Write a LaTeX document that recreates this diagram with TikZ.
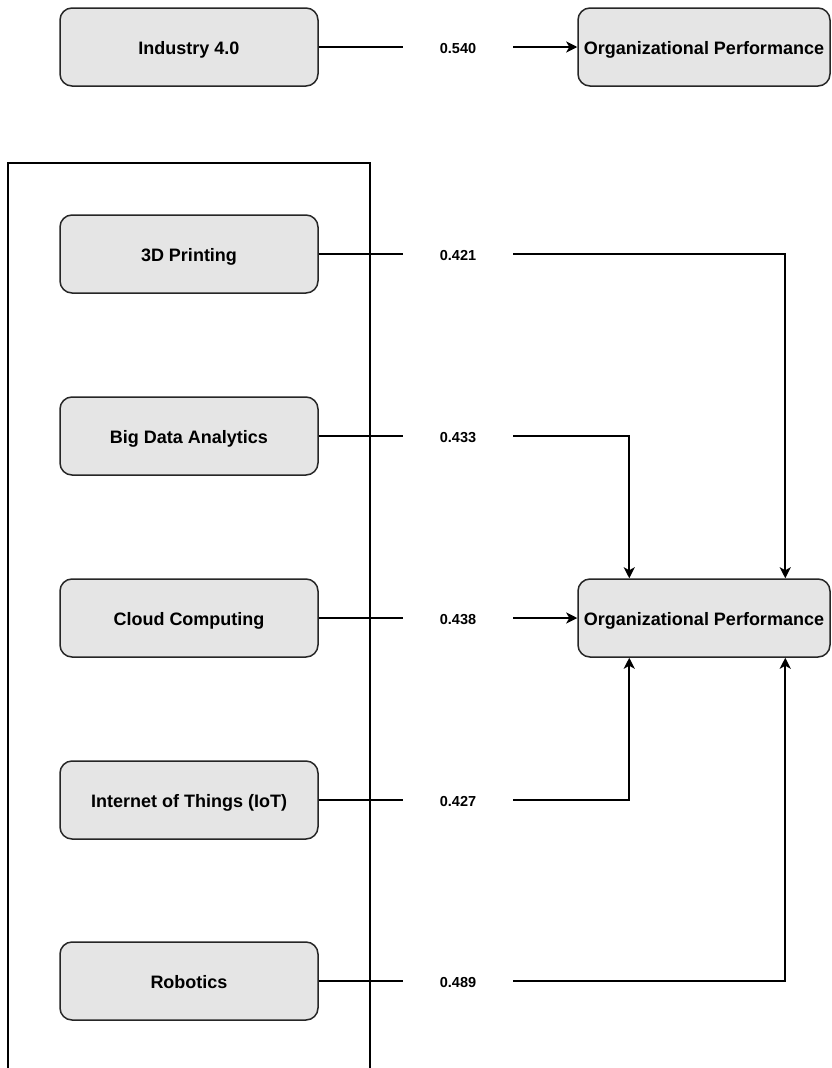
\documentclass[tikz,border=0pt]{standalone}
\usepackage{fontspec}
\setmainfont{Liberation Sans}
\usetikzlibrary{arrows.meta,calc}
\begin{document}
\begin{tikzpicture}[x=1pt,y=-1pt,
  box/.style={draw=black!85,line width=1.5pt,fill=black!10,rounded corners=12pt,
    minimum width=258pt,minimum height=78pt,inner sep=0pt,text height=15pt,text depth=0pt,
    font=\bfseries\fontsize{18}{21}\selectfont},
  opbox/.style={box,minimum width=252pt},
  lbl/.style={minimum width=110pt,inner sep=0pt,text height=12.5pt,text depth=0pt,
    font=\bfseries\fontsize{14.5}{16}\selectfont},
  conn/.style={line width=1.8pt,draw=black},
  arr/.style={conn,-{Stealth[length=11pt,width=11pt,inset=3pt]}}]
\useasboundingbox (0,0) rectangle (832,1068);
\fill[white] (0,0) rectangle (832,1068);
% frame
\draw[line width=1.5pt] (8,1070) -- (8,163) -- (370,163) -- (370,1070);
% top row
\node[box] (ind) at (189,47) {Industry 4.0};
\node[opbox] (op1) at (704,47) {Organizational Performance};
\node[lbl] (l0) at (458,47) {0.540};
\draw[conn] (ind.east) -- (l0.west);
\draw[arr] (l0.east) -- (op1.west);
% left boxes
\node[box] (p3d) at (189,254) {3D Printing};
\node[box] (bda) at (189,436) {Big Data Analytics};
\node[box] (cc) at (189,618) {Cloud Computing};
\node[box] (iot) at (189,800) {Internet of Things (IoT)};
\node[box] (rob) at (189,981) {Robotics};
\node[opbox] (op2) at (704,618) {Organizational Performance};
% labels
\node[lbl] (l1) at (458,254) {0.421};
\node[lbl] (l2) at (458,436) {0.433};
\node[lbl] (l3) at (458,618) {0.438};
\node[lbl] (l4) at (458,800) {0.427};
\node[lbl] (l5) at (458,981) {0.489};
\coordinate (tA) at ([xshift=52pt]op2.north west);
\coordinate (tB) at ([xshift=208pt]op2.north west);
\coordinate (bA) at ([xshift=52pt]op2.south west);
\coordinate (bB) at ([xshift=208pt]op2.south west);
\draw[conn] (p3d.east) -- (l1.west);
\draw[conn] (bda.east) -- (l2.west);
\draw[conn] (cc.east) -- (l3.west);
\draw[conn] (iot.east) -- (l4.west);
\draw[conn] (rob.east) -- (l5.west);
\draw[arr] (l1.east) -| (tB);
\draw[arr] (l2.east) -| (tA);
\draw[arr] (l3.east) -- (op2.west);
\draw[arr] (l4.east) -| (bA);
\draw[arr] (l5.east) -| (bB);
\end{tikzpicture}
\end{document}
